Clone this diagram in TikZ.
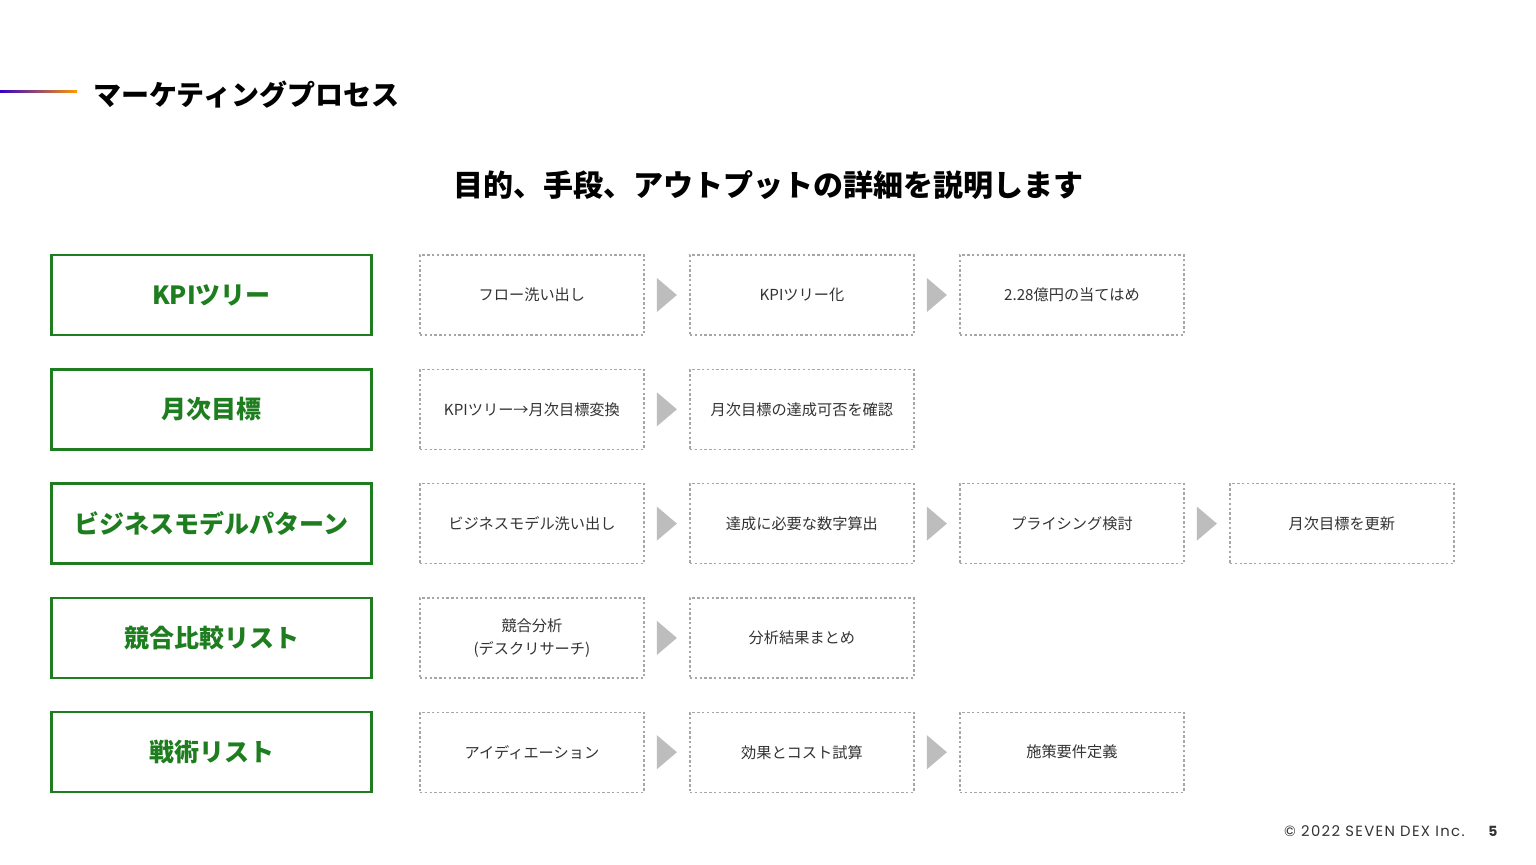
\documentclass[tikz,border=0pt]{standalone}
\usepackage{fontspec}
\setmainfont{Noto Sans CJK JP}
\newfontfamily\footfont[LetterSpace=9]{Poppins}
\usetikzlibrary{positioning,calc}
\definecolor{kpigreen}{HTML}{1E7D1E}
\definecolor{dotgray}{HTML}{A6A6A6}
\definecolor{arrowgray}{HTML}{BDBDBD}
\definecolor{textgray}{HTML}{333333}
\tikzset{
	goal/.style={
		rectangle,
		draw=kpigreen,
		line width=1.2pt,
		minimum width=160pt,
		minimum height=40pt,
		text=kpigreen,
		font=\bfseries\fontsize{12.5}{15}\selectfont
	},
	task/.style={
		rectangle,
		draw=dotgray,
		line width=0.6pt,
		dash pattern=on 1.2pt off 1.2pt,
		minimum width=112pt,
		minimum height=40pt,
		align=center,
		text=textgray,
		font=\fontsize{7.6}{11.5}\selectfont
	}
}

\begin{document}
\begin{tikzpicture}[x=0.5pt,y=-0.5pt,node distance=15.95pt and 22.4pt]
		\useasboundingbox[fill=white] (0,0) rectangle (1536,864);
		% heading
		\node [anchor=west,inner sep=0pt,font=\bfseries\fontsize{14}{16}\selectfont] (title) at (93,95) {マーケティングプロセス};
		\shade [left color=blue!60!violet,middle color=red!85!orange,right color=orange!80!yellow] (0,90) rectangle (77,92);
		\node [font=\bfseries\fontsize{15}{18}\selectfont] (sub) at (768,185) {目的、手段、アウトプットの詳細を説明します};
		% rows
		\node [goal] (g1) at (211.5,295) {KPIツリー};
		\node [goal] (g2) [below= of g1] {月次目標};
		\node [goal] (g3) [below= of g2] {ビジネスモデルパターン};
		\node [goal] (g4) [below= of g3] {競合比較リスト};
		\node [goal] (g5) [below= of g4] {戦術リスト};
		\node [task] (t11) [right=23.3pt of g1] {フロー洗い出し};
		\node [task] (t12) [right= of t11] {KPIツリー化};
		\node [task] (t13) [right= of t12] {2.28億円の当てはめ};
		\node [task] (t21) [right=23.3pt of g2] {KPIツリー→月次目標変換};
		\node [task] (t22) [right= of t21] {月次目標の達成可否を確認};
		\node [task] (t31) [right=23.3pt of g3] {ビジネスモデル洗い出し};
		\node [task] (t32) [right= of t31] {達成に必要な数字算出};
		\node [task] (t33) [right= of t32] {プライシング検討};
		\node [task] (t34) [right= of t33] {月次目標を更新};
		\node [task] (t41) [right=23.3pt of g4] {競合分析\\(デスクリサーチ)};
		\node [task] (t42) [right= of t41] {分析結果まとめ};
		\node [task] (t51) [right=23.3pt of g5] {アイディエーション};
		\node [task] (t52) [right= of t51] {効果とコスト試算};
		\node [task] (t53) [right= of t52] {施策要件定義};
		% arrows
		\foreach \a/\b in {t11/t12,t12/t13,t21/t22,t31/t32,t32/t33,t33/t34,t41/t42,t51/t52,t52/t53}
			\fill [arrowgray] ($(\a.east)!0.5!(\b.west)$) +(-5pt,8.5pt) -- +(5pt,0pt) -- +(-5pt,-8.5pt) -- cycle;
		% footer
		\node [anchor=east,inner sep=0pt,text=textgray,font=\footfont\fontsize{7.4}{9}\selectfont] (copy) at (1465,831) {© 2022 SEVEN DEX Inc.};
		\node [inner sep=0pt,text=textgray,font=\footfont\bfseries\fontsize{7}{9}\selectfont] (page) at (1493,831) {5};
\end{tikzpicture}
\end{document}
